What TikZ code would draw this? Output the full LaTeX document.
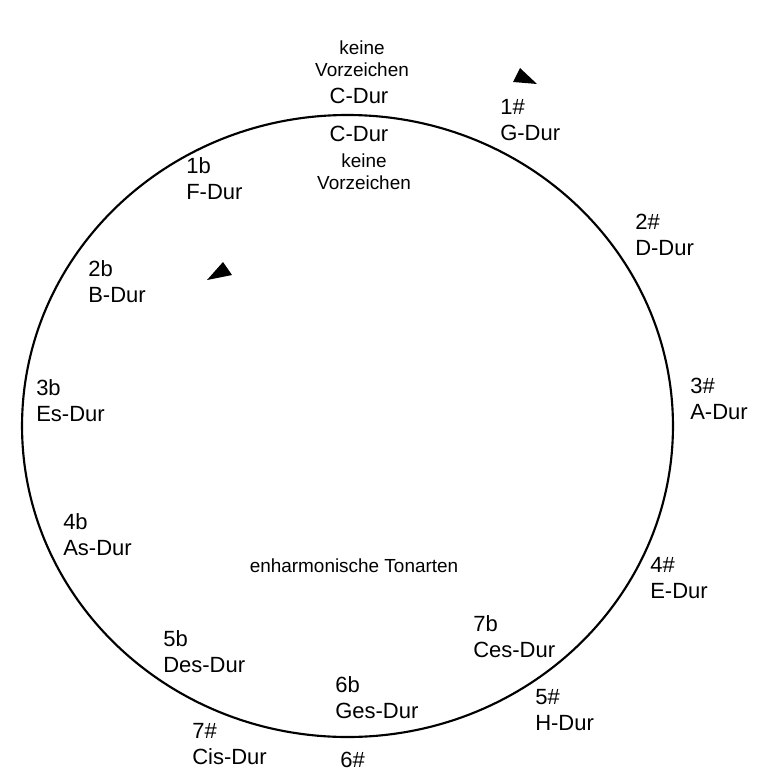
\documentclass[tikz,border=0pt]{standalone}
\usepackage{fontspec}
\setmainfont{Liberation Sans}
\begin{document}
\begin{tikzpicture}[x=0.75pt,y=-0.75pt]
  \tikzstyle{key}=[anchor=north west,inner sep=0pt,align=left,font=\fontsize{16.5pt}{19.5pt}\selectfont]
  \tikzstyle{note}=[anchor=north,inner sep=0pt,align=center,font=\fontsize{14.2pt}{16.5pt}\selectfont]
  \useasboundingbox (0,0) rectangle (760,774);
  \draw[line width=1.6pt] (347.5,426) ellipse [x radius=244.1pt,y radius=233.25pt];
  % Kreuz-Tonarten (aussen, im Uhrzeigersinn)
  \node[note] (cnote) at (362,41) {keine\\Vorzeichen};
  \node[key,anchor=north] (cdur) at (359,88) {C-Dur};
  \node[key] (gdur) at (500,99) {1\#\\G-Dur};
  \node[key] (ddur) at (635,214) {2\#\\D-Dur};
  \node[key] (adur) at (690,378) {3\#\\A-Dur};
  \node[key] (edur) at (650,557) {4\#\\E-Dur};
  \node[key] (hdur) at (535,689) {5\#\\H-Dur};
  \node[key] (fis) at (340,752) {6\#};
  \node[key] (cisdur) at (192,723) {7\#\\Cis-Dur};
  % b-Tonarten (innen, gegen den Uhrzeigersinn)
  \node[key,anchor=north] (cdurin) at (359,126) {C-Dur};
  \node[note] (cnotein) at (364,154) {keine\\Vorzeichen};
  \node[key] (fdur) at (186,157) {1b\\F-Dur};
  \node[key] (bdur) at (88,260) {2b\\B-Dur};
  \node[key] (esdur) at (36,379) {3b\\Es-Dur};
  \node[key] (asdur) at (63,513) {4b\\As-Dur};
  \node[key] (desdur) at (163,630) {5b\\Des-Dur};
  \node[key] (gesdur) at (335,676) {6b\\Ges-Dur};
  \node[key] (cesdur) at (473,615) {7b\\Ces-Dur};
  \node[note,anchor=base] (enh) at (354,572) {enharmonische Tonarten};
  % Richtungspfeile
  \fill (513,82) -- (520,68) -- (537,84) -- cycle;
  \fill (207,280) -- (223,262) -- (232,275) -- cycle;
\end{tikzpicture}
\end{document}
